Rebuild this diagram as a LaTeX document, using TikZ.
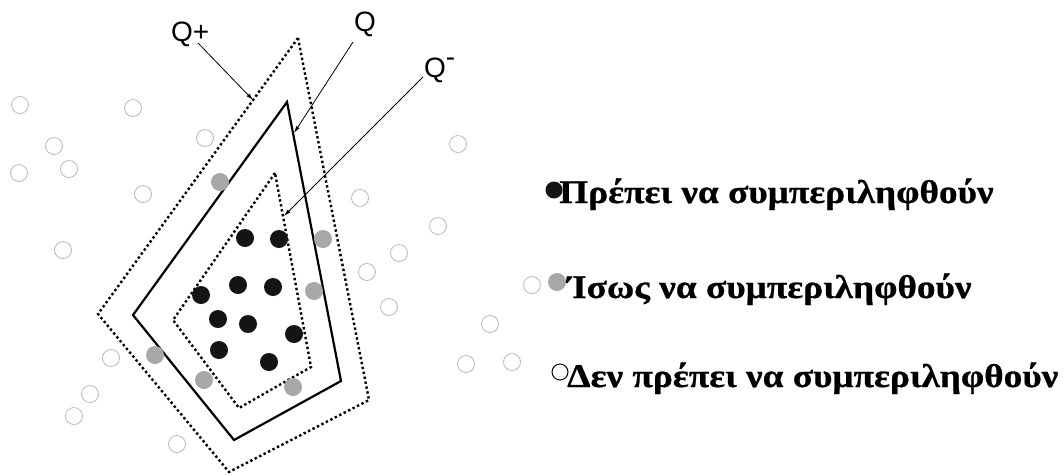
\documentclass[tikz,border=0pt]{standalone}
\usepackage{fontspec}
\setmainfont{Liberation Serif}
\setsansfont{Liberation Sans}
\newfontfamily\legendfont{Liberation Serif}[FakeStretch=1.13,FakeBold=0.7]
\usetikzlibrary{arrows.meta}
\definecolor{dotgray}{RGB}{168,168,168}
\definecolor{ringgray}{RGB}{185,185,185}
\begin{document}
\begin{tikzpicture}[x=1pt,y=-1pt,
  dotline/.style={line width=2.4pt, dash pattern=on 2.4pt off 2.6pt},
  qline/.style={line width=2.2pt, line join=miter},
  blackdot/.style={circle, fill=black!92, inner sep=0pt, minimum size=18pt},
  graydot/.style={circle, fill=dotgray, inner sep=0pt, minimum size=18pt},
  ring/.style={circle, draw=ringgray, line width=0.8pt, inner sep=0pt, minimum size=17pt},
  openmark/.style={circle, draw=black, line width=1pt, inner sep=0pt, minimum size=16pt},
  pointer/.style={-{Latex[length=7pt,width=4pt]}, line width=0.8pt},
  qlabel/.style={font=\sffamily\fontsize{28}{32}\selectfont, inner sep=0pt, anchor=base west},
  legend/.style={font=\legendfont\bfseries\fontsize{33}{38}\selectfont, inner sep=0pt, anchor=base west}]
\useasboundingbox (0,0) rectangle (1064,475);
\fill[white] (0,0) rectangle (1064,475);

% polygons
\draw[dotline] (298,38) -- (98,314) -- (229,472) -- (369,400) -- cycle;
\draw[qline] (287,102) -- (133,315) -- (234,440) -- (341,381) -- cycle;
\draw[dotline] (275,173) -- (173,320) -- (239,408) -- (311,367) -- cycle;

% labels
\node[qlabel] (qplus) at (171,41) {Q+};
\node[qlabel] (q) at (354,31) {Q};
\node[qlabel] (qminus) at (424,77) {Q\raisebox{11pt}{-}};

\coordinate (qps) at (198,43);
\coordinate (qpt) at (253,100);
\coordinate (qs) at (353,42);
\coordinate (qt) at (294,133);
\coordinate (qms) at (423,77);
\coordinate (qmt) at (284,216);
\draw[pointer] (qps) -- (qpt);
\draw[pointer] (qs) -- (qt);
\draw[pointer] (qms) -- (qmt);

% open rings
\foreach \x/\y [count=\i] in {20/105, 133/108, 205/138, 54/146, 19/173, 69/169, 143/194,
  458/144, 360/198, 438/226, 63/250, 399/253, 367/272, 389/307, 490/324, 466/364,
  512/362, 111/358, 90/394, 74/416, 177/444, 532/285}
  \node[ring] (r\i) at (\x,\y) {};

% black dots
\foreach \x/\y [count=\i] in {245/238, 279/239, 201/295, 238/285, 273/287, 218/319,
  248/324, 294/334, 219/350, 269/362}
  \node[blackdot] (b\i) at (\x,\y) {};

% gray dots
\foreach \x/\y [count=\i] in {220/182, 323/239, 314/291, 155/355, 204/380, 293/387}
  \node[graydot] (g\i) at (\x,\y) {};

% legend
\node[blackdot, minimum size=17pt] (lb) at (554,190) {};
\node[legend] (l1) at (559,203) {Πρέπει να συμπεριληφθούν};
\node[graydot] (lg) at (557,282) {};
\node[legend] (l2) at (567,298) {Ίσως να συμπεριληφθούν};
\node[openmark] (lo) at (560,372) {};
\node[legend] (l3) at (567,387) {Δεν πρέπει να συμπεριληφθούν};
\end{tikzpicture}
\end{document}
